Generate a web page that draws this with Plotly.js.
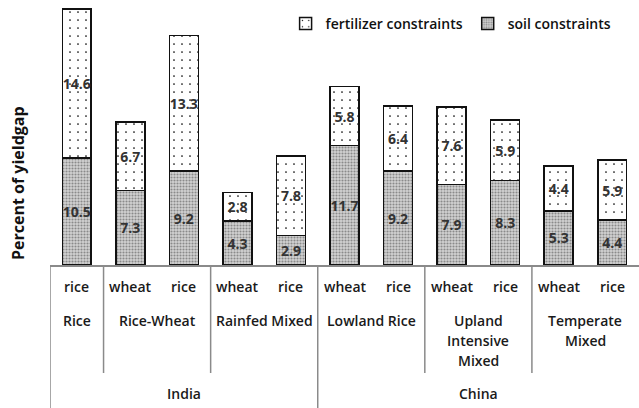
<!DOCTYPE html>
<html>
<head>
<meta charset="utf-8">
<script src="https://cdn.plot.ly/plotly-3.0.1.min.js"></script>
<style>html,body{margin:0;padding:0;background:#fff;}#chart{width:639px;height:408px;}</style>
</head>
<body>
<div id="chart"></div>
<script>
// ---- data ----
const countries = ["India","India","India","India","India","China","China","China","China","China","China"];
const systems = ["Rice","Rice-Wheat","Rice-Wheat","Rainfed Mixed","Rainfed Mixed","Lowland Rice","Lowland Rice","Upland<br>Intensive<br>Mixed","Upland<br>Intensive<br>Mixed","Temperate<br>Mixed","Temperate<br>Mixed"];
const crops = ["rice","wheat","rice","wheat","rice","wheat","rice","wheat","rice","wheat","rice"];
const soil = [10.5, 7.3, 9.2, 4.3, 2.9, 11.7, 9.2, 7.9, 8.3, 5.3, 4.4];
const fertilizer = [14.6, 6.7, 13.3, 2.8, 7.8, 5.8, 6.4, 7.6, 5.9, 4.4, 5.9];

const FONT = "Open Sans, sans-serif";
const cats = crops.map((c, i) => countries[i] + "|" + systems[i] + "|" + c);

const H = 408, T = 8, B = 143;
const plotH = H - T - B;
const py = (pix) => -(pix - (H - B)) / plotH; // pixel y -> paper y

const valFont = {family: FONT, size: 14, color: "#333", weight: 700};
const soilTrace = {
  type: "bar", name: "soil constraints", x: cats, y: soil,
  text: soil.map(v => v.toFixed(1)), textposition: "inside", insidetextanchor: "middle",
  textangle: 0, constraintext: "none", cliponaxis: false,
  textfont: valFont,
  marker: {color: "#bdbdbd", line: {color: "#111", width: 1.5},
    pattern: {shape: ".", size: 3, solidity: 0.4, bgcolor: "#d2d2d2", fgcolor: "#8a8a8a"}},
  hoverinfo: "none"
};
const fertTrace = {
  type: "bar", name: "fertilizer constraints", x: cats, y: fertilizer,
  text: fertilizer.map(v => v.toFixed(1)), textposition: "inside", insidetextanchor: "middle",
  textangle: 0, constraintext: "none", cliponaxis: false,
  textfont: valFont,
  marker: {color: "#ffffff", line: {color: "#111", width: 1.5},
    pattern: {shape: ".", size: 8, solidity: 0.035, bgcolor: "#ffffff", fgcolor: "#000000"}},
  hoverinfo: "none"
};

const annotations = [];
const shapes = [];
const lineCol = "#8a8a8a";
const labFont = {family: FONT, size: 14, color: "#1a1a1a", weight: 600};

// crop labels
crops.forEach((c, i) => {
  annotations.push({xref: "x", yref: "paper", x: i, y: py(286), text: c, showarrow: false,
    xanchor: "center", yanchor: "middle", font: labFont});
});

// groups
function groups(keyFn) {
  const g = [];
  cats.forEach((c, i) => {
    const k = keyFn(i);
    if (g.length && g[g.length - 1].key === k) g[g.length - 1].end = i;
    else g.push({key: k, start: i, end: i});
  });
  return g;
}
const sysGroups = groups(i => countries[i] + "|" + systems[i]);
const ctyGroups = groups(i => countries[i]);

sysGroups.forEach(g => {
  const mid = (g.start + g.end) / 2;
  const label = systems[g.start];
  label.split("<br>").forEach((ln, j) => {
    annotations.push({xref: "x", yref: "paper", x: mid, y: py(320 + j * 20), text: ln, showarrow: false,
      xanchor: "center", yanchor: "middle", font: labFont});
  });
});
ctyGroups.forEach(g => {
  const mid = (g.start + g.end) / 2;
  annotations.push({xref: "x", yref: "paper", x: mid, y: py(393), text: countries[g.start], showarrow: false,
    xanchor: "center", yanchor: "middle", font: labFont});
});

// divider lines
const ctyStarts = new Set(ctyGroups.map(g => g.start));
shapes.push({type: "line", xref: "x", yref: "paper", x0: -0.5, x1: -0.5, y0: 0, y1: py(H + 2),
  line: {color: lineCol, width: 1.5}});
sysGroups.forEach(g => {
  if (g.start === 0) return;
  const full = ctyStarts.has(g.start);
  shapes.push({type: "line", xref: "x", yref: "paper", x0: g.start - 0.5, x1: g.start - 0.5,
    y0: 0, y1: full ? py(H + 2) : py(373), line: {color: lineCol, width: 1.5}});
});

// y title
annotations.push({xref: "paper", yref: "paper", x: -32 / 589, y: py(183), text: "<b>Percent of yieldgap</b>",
  textangle: -90, showarrow: false, xanchor: "center", yanchor: "middle",
  font: {family: FONT, size: 16, color: "#111"}});

const layout = {
  width: 639, height: 408,
  margin: {l: 50, r: 0, t: T, b: B, pad: 0},
  paper_bgcolor: "#fff", plot_bgcolor: "#fff",
  barmode: "stack", bargap: 0.46,
  showlegend: true,
  legend: {orientation: "h", x: 0.40, xanchor: "left", y: 1.0, yanchor: "top",
    traceorder: "reversed", bgcolor: "rgba(0,0,0,0)",
    font: {family: FONT, size: 14, color: "#111", weight: 600}},
  xaxis: {type: "category", showticklabels: false, ticks: "", showgrid: false, zeroline: false,
    showline: true, linecolor: lineCol, linewidth: 1.5, range: [-0.5, cats.length - 0.5], fixedrange: true},
  yaxis: {visible: false, range: [0, 25.2], showgrid: false, zeroline: false, fixedrange: true},
  annotations: annotations,
  shapes: shapes
};

Plotly.newPlot("chart", [soilTrace, fertTrace], layout, {displayModeBar: false, staticPlot: true});
</script>
</body>
</html>
